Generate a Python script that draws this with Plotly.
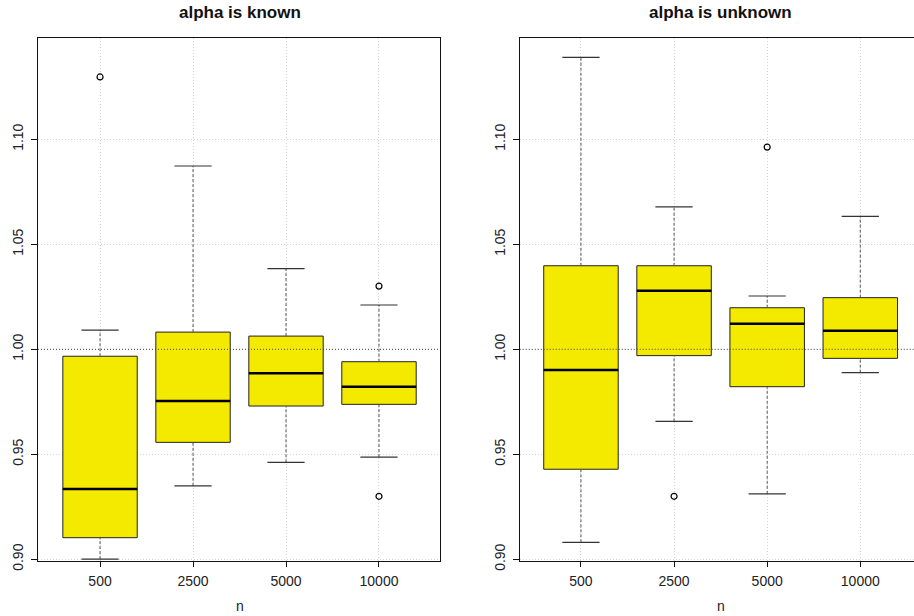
import plotly.graph_objects as go

# ---- data ----
categories = ["500", "2500", "5000", "10000"]
panel_titles = ["alpha is known", "alpha is unknown"]

known_q1 = [0.9103, 0.9557, 0.9730, 0.9738]
known_median = [0.9335, 0.9754, 0.9886, 0.9822]
known_q3 = [0.9967, 1.0082, 1.0063, 0.9941]
known_lower = [0.9001, 0.9350, 0.9462, 0.9487]
known_upper = [1.0091, 1.0873, 1.0384, 1.0211]
known_out_cat = [0, 3, 3]
known_out_val = [1.1297, 1.0301, 0.9300]

unknown_q1 = [0.9429, 0.9970, 0.9822, 0.9957]
unknown_median = [0.9901, 1.0279, 1.0122, 1.0089]
unknown_q3 = [1.0398, 1.0398, 1.0198, 1.0246]
unknown_lower = [0.9081, 0.9657, 0.9312, 0.9889]
unknown_upper = [1.1390, 1.0678, 1.0254, 1.0633]
unknown_out_cat = [1, 2]
unknown_out_val = [0.9300, 1.0963]

y_ticks = [0.90, 0.95, 1.00, 1.05, 1.10]
y_tick_text = ["0.90", "0.95", "1.00", "1.05", "1.10"]
REF_LINE = 1.00

# ---- style ----
FONT = "Liberation Sans, Arial, Helvetica, sans-serif"
BOX_FILL = "#F4EA00"
BOX_LINE = "#222222"
BOX_HALF = 0.4
CAP_HALF = 0.2

fig = go.Figure()


def add_panel(fig, xa, ya, q1, med, q3, lo, hi, out_c, out_v):
    pos = list(range(len(categories)))
    # whiskers (dashed)
    wx, wy = [], []
    for i in pos:
        wx += [i, i, None, i, i, None]
        wy += [lo[i], q1[i], None, q3[i], hi[i], None]
    fig.add_trace(go.Scatter(x=wx, y=wy, mode="lines", xaxis=xa, yaxis=ya,
                             line=dict(color="#555555", width=1, dash="3px,2px"),
                             hoverinfo="skip", showlegend=False))
    # boxes
    fig.add_trace(go.Box(x=pos, q1=q1, median=med, q3=q3,
                         lowerfence=q1, upperfence=q3,
                         width=2 * BOX_HALF, whiskerwidth=0,
                         fillcolor=BOX_FILL, line=dict(color=BOX_LINE, width=1),
                         boxpoints=False, xaxis=xa, yaxis=ya,
                         hoverinfo="skip", showlegend=False))
    # medians (thick)
    mx, my = [], []
    for i in pos:
        mx += [i - BOX_HALF, i + BOX_HALF, None]
        my += [med[i], med[i], None]
    fig.add_trace(go.Scatter(x=mx, y=my, mode="lines", xaxis=xa, yaxis=ya,
                             line=dict(color="#000000", width=2.5),
                             hoverinfo="skip", showlegend=False))
    # caps
    cx, cy = [], []
    for i in pos:
        cx += [i - CAP_HALF, i + CAP_HALF, None, i - CAP_HALF, i + CAP_HALF, None]
        cy += [lo[i], lo[i], None, hi[i], hi[i], None]
    fig.add_trace(go.Scatter(x=cx, y=cy, mode="lines", xaxis=xa, yaxis=ya,
                             line=dict(color="#333333", width=1.2),
                             hoverinfo="skip", showlegend=False))
    # outliers
    fig.add_trace(go.Scatter(x=out_c, y=out_v, mode="markers", xaxis=xa, yaxis=ya,
                             marker=dict(symbol="circle-open", size=6,
                                         color="#000000", line=dict(width=1.2)),
                             hoverinfo="skip", showlegend=False))


add_panel(fig, "x", "y", known_q1, known_median, known_q3, known_lower,
          known_upper, known_out_cat, known_out_val)
add_panel(fig, "x2", "y2", unknown_q1, unknown_median, unknown_q3, unknown_lower,
          unknown_upper, unknown_out_cat, unknown_out_val)

Y_DOMAIN = [0.0893, 0.9388]
Y_RANGE = [0.8992, 1.1484]

common_x = dict(tickmode="array", tickvals=list(range(len(categories))),
                ticktext=categories, showgrid=True, gridcolor="#d6d6d6",
                griddash="1px,2px", gridwidth=1, zeroline=False, showline=True,
                linecolor="#111111", linewidth=1, ticks="outside", ticklen=5,
                tickcolor="#111111", automargin=False, ticklabelstandoff=2,
                tickfont=dict(family=FONT, size=14, color="#222222"))
common_y = dict(tickmode="array", tickvals=y_ticks, ticktext=y_tick_text,
                range=Y_RANGE, domain=Y_DOMAIN, showgrid=True,
                gridcolor="#d6d6d6", griddash="1px,2px", gridwidth=1,
                zeroline=False, showline=True, linecolor="#111111", linewidth=1,
                ticks="outside", ticklen=6, tickcolor="#111111", tickangle=-90,
                automargin=False, ticklabelstandoff=2,
                tickfont=dict(family=FONT, size=14, color="#222222"))

fig.update_layout(
    template="none",
    width=914, height=616,
    margin=dict(l=0, r=0, t=0, b=0, pad=0),
    paper_bgcolor="white", plot_bgcolor="white",
    showlegend=False,
    xaxis=dict(common_x, domain=[0.0416, 0.4817], range=[-0.667, 3.659],
               mirror=True, anchor="y"),
    yaxis=dict(common_y, mirror=True, anchor="x"),
    xaxis2=dict(common_x, domain=[0.5686, 1.0], range=[-0.658, 3.577],
                mirror=True, anchor="y2"),
    yaxis2=dict(common_y, mirror=False, anchor="x2"),
)

# reference line at 1.00
for xr, yr in [("x", "y"), ("x2", "y2")]:
    fig.add_shape(type="line", xref=xr + " domain", yref=yr,
                  x0=0, x1=1, y0=REF_LINE, y1=REF_LINE,
                  line=dict(color="#444444", width=1, dash="1px,2px"))

mid = (len(categories) - 1) / 2
for xr, title in [("x", panel_titles[0]), ("x2", panel_titles[1])]:
    fig.add_annotation(text="<b>" + title + "</b>", xref=xr, yref="paper",
                       x=mid, y=1 - 13 / 616, showarrow=False,
                       xanchor="center", yanchor="middle",
                       font=dict(family=FONT, size=17, color="#111111"))
    fig.add_annotation(text="n", xref=xr, yref="paper",
                       x=mid, y=1 - 606 / 616, showarrow=False,
                       xanchor="center", yanchor="middle",
                       font=dict(family=FONT, size=14, color="#222222"))

fig.write_html("out.html",
               config={"displayModeBar": False, "staticPlot": True},
               post_script="document.body.style.margin='0';"
                           "document.body.style.overflow='hidden';")
